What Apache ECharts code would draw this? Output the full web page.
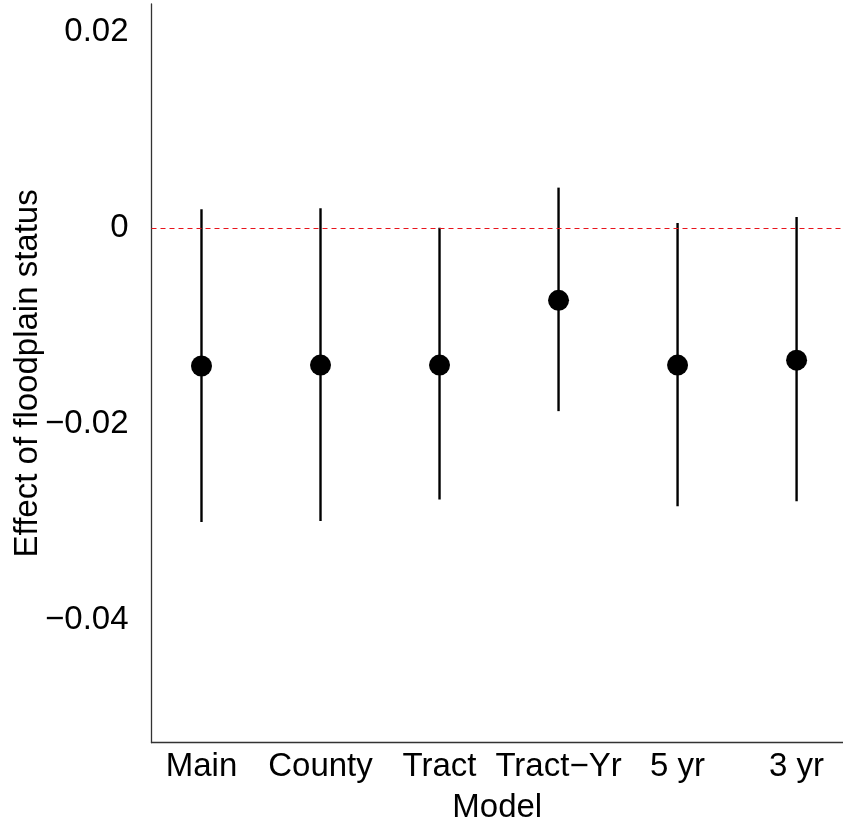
<!DOCTYPE html>
<html>
<head>
<meta charset="utf-8">
<script src="https://cdn.jsdelivr.net/npm/echarts@6/dist/echarts.min.js"></script>
<style>
html,body{margin:0;padding:0;background:#fff;}
#chart{width:843px;height:832px;}
</style>
</head>
<body>
<div id="chart"></div>
<script>
var categories = ['Main', 'County', 'Tract', 'Tract\u2212Yr', '5 yr', '3 yr'];
var estimates = [-0.0141, -0.0140, -0.0140, -0.0074, -0.0140, -0.0135];
var lower = [-0.0300, -0.0299, -0.0277, -0.0187, -0.0284, -0.0279];
var upper = [0.0019, 0.0020, 0.0000, 0.0041, 0.0005, 0.0011];
var yTicks = [-0.04, -0.02, 0, 0.02];
var yTickLabels = ['\u22120.04', '\u22120.02', '0', '0.02'];
var xPositions = [1, 2, 3, 4, 5, 6];

var font = 'Liberation Sans, Arial, sans-serif';
var fs = 33;
var chart = echarts.init(document.getElementById('chart'));

var pointData = categories.map(function (c, i) { return [xPositions[i], estimates[i]]; });
var barData = categories.map(function (c, i) { return [xPositions[i], lower[i], upper[i]]; });

chart.setOption({
  animation: false,
  backgroundColor: '#ffffff',
  grid: { left: 151.5, right: 0, top: 4, bottom: 89.3, containLabel: false, outerBoundsMode: 'none' },
  xAxis: {
    type: 'value',
    min: 0.58,
    max: 6.39,
    name: 'Model',
    nameLocation: 'middle',
    nameGap: 49,
    nameMoveOverlap: false,
    nameTextStyle: { fontFamily: font, fontSize: fs, color: '#000' },
    axisLine: { show: true, onZero: false, lineStyle: { color: '#333', width: 1.3 } },
    axisTick: { show: false },
    splitLine: { show: false },
    axisLabel: {
      customValues: xPositions,
      fontFamily: font, fontSize: fs, color: '#000', margin: 8,
      formatter: function (v) {
        var idx = xPositions.indexOf(Math.round(v));
        return idx >= 0 ? categories[idx] : '';
      }
    }
  },
  yAxis: {
    type: 'value',
    min: -0.05252,
    max: 0.02283,
    name: 'Effect of floodplain status',
    nameLocation: 'middle',
    nameGap: 107,
    nameMoveOverlap: false,
    nameTextStyle: { fontFamily: font, fontSize: fs, color: '#000' },
    axisLine: { show: true, onZero: false, lineStyle: { color: '#333', width: 1.3 } },
    axisTick: { show: false },
    splitLine: { show: false },
    axisLabel: {
      customValues: yTicks,
      fontFamily: font, fontSize: fs, color: '#000', margin: 23,
      formatter: function (v) {
        for (var i = 0; i < yTicks.length; i++) {
          if (Math.abs(v - yTicks[i]) < 1e-9) return yTickLabels[i];
        }
        return '';
      }
    }
  },
  series: [
    {
      type: 'custom',
      data: barData,
      renderItem: function (params, api) {
        var p1 = api.coord([api.value(0), api.value(1)]);
        var p2 = api.coord([api.value(0), api.value(2)]);
        return {
          type: 'line',
          shape: { x1: p1[0], y1: p1[1], x2: p2[0], y2: p2[1] },
          style: { stroke: '#000', lineWidth: 2.4 }
        };
      },
      markLine: {
        silent: true,
        symbol: 'none',
        label: { show: false },
        lineStyle: { color: '#e8141c', type: [5, 4], width: 1 },
        data: [{ yAxis: 0 }]
      },
      z: 2
    },
    {
      type: 'scatter',
      data: pointData,
      symbol: 'circle',
      symbolSize: 21,
      itemStyle: { color: '#000', opacity: 1 },
      z: 3
    }
  ]
});
</script>
</body>
</html>
